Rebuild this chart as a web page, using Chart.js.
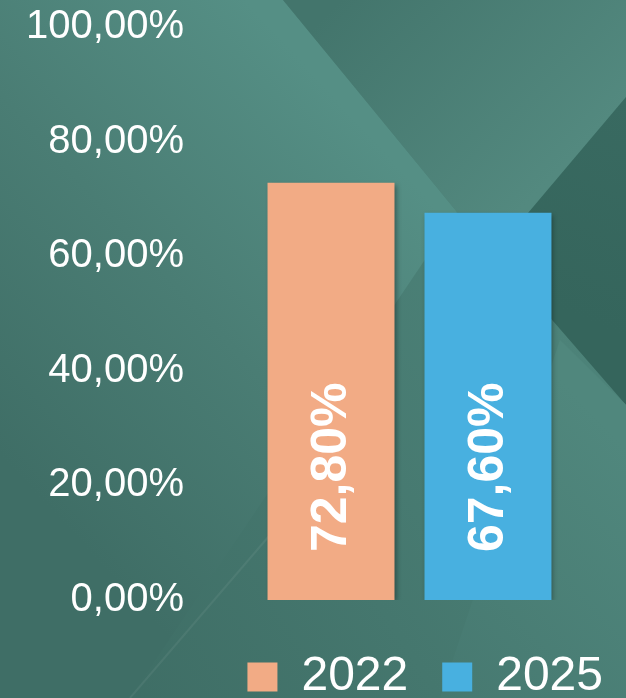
<!DOCTYPE html>
<html>
<head>
<meta charset="utf-8">
<script src="https://cdn.jsdelivr.net/npm/chart.js@4"></script>
<style>
  html, body { margin: 0; padding: 0; background: #467970; }
  #wrap { width: 626px; height: 698px; }
</style>
</head>
<body>
<div id="wrap"><canvas id="grafico"></canvas></div>
<script>
const categorias = ['Índice'];
const anos = ['2022', '2025'];
const valores2022 = [72.8];
const valores2025 = [67.6];
const coresBarras = ['#F2AB85', '#48B0E0'];
const yTicks = [0, 20, 40, 60, 80, 100];

const fmtPct = v => v.toFixed(2).replace('.', ',') + '%';

// fundo com as faixas diagonais
const fundoPlugin = {
  id: 'fundo',
  beforeDraw(chart) {
    const ctx = chart.ctx;
    const w = chart.width, h = chart.height;
    ctx.save();
    const poly = (pts, fill) => {
      ctx.beginPath();
      ctx.moveTo(pts[0][0], pts[0][1]);
      pts.slice(1).forEach(p => ctx.lineTo(p[0], p[1]));
      ctx.closePath();
      ctx.fillStyle = fill;
      ctx.fill();
    };
    let g = ctx.createLinearGradient(0, h, w, 300);
    g.addColorStop(0, '#3c6a62');
    g.addColorStop(0.5, '#45776e');
    g.addColorStop(1, '#4e857b');
    ctx.fillStyle = g;
    ctx.fillRect(0, 0, w, h);

    // faixa clara à esquerda da diagonal
    g = ctx.createLinearGradient(420, 190, 60, 520);
    g.addColorStop(0, '#558f85');
    g.addColorStop(0.5, '#4a7d74');
    g.addColorStop(1, '#3f6e66');
    poly([[0, 0], [283, 0], [457, 212], [130, 698], [0, 698]], g);

    // região superior direita
    g = ctx.createLinearGradient(340, 0, 540, 190);
    g.addColorStop(0, '#43756c');
    g.addColorStop(1, '#53897f');
    poly([[283, 0], [626, 0], [626, 97], [528, 213], [457, 212]], g);

    // triângulo escuro à direita
    g = ctx.createLinearGradient(626, 100, 540, 300);
    g.addColorStop(0, '#396a61');
    g.addColorStop(1, '#35655c');
    poly([[626, 97], [528, 213], [500, 260], [626, 405]], g);

    // parte inferior direita
    g = ctx.createLinearGradient(600, 420, 300, 698);
    g.addColorStop(0, '#50877d');
    g.addColorStop(1, '#43746c');
    poly([[626, 405], [626, 698], [440, 698], [560, 340]], g);

    // linha clara tênue
    ctx.strokeStyle = 'rgba(255,255,255,0.06)';
    ctx.lineWidth = 2;
    ctx.beginPath();
    ctx.moveTo(130, 698);
    ctx.lineTo(300, 500);
    ctx.stroke();
    ctx.restore();
  }
};

// sombra das barras e rótulos verticais
const rotulosPlugin = {
  id: 'rotulos',
  beforeDatasetsDraw(chart) {
    const ctx = chart.ctx;
    ctx.save();
    ctx.shadowColor = 'rgba(0,0,0,0.35)';
    ctx.shadowBlur = 5;
    ctx.shadowOffsetX = 2;
    ctx.shadowOffsetY = 2;
  },
  afterDatasetsDraw(chart) {
    const ctx = chart.ctx;
    ctx.restore();
    const base = chart.scales.y.getPixelForValue(0);
    chart.data.datasets.forEach((ds, i) => {
      chart.getDatasetMeta(i).data.forEach((bar, j) => {
        ctx.save();
        ctx.translate(bar.x, base - 48);
        ctx.rotate(-Math.PI / 2);
        ctx.font = 'bold 50px "Liberation Sans", Arial, sans-serif';
        ctx.fillStyle = '#ffffff';
        ctx.textAlign = 'left';
        ctx.textBaseline = 'middle';
        ctx.fillText(fmtPct(ds.data[j]), 0, 1);
        ctx.restore();
      });
    });
  }
};

new Chart(document.getElementById('grafico'), {
  type: 'bar',
  data: {
    labels: categorias,
    datasets: [
      {
        label: anos[0],
        data: valores2022,
        backgroundColor: coresBarras[0],
        borderWidth: 0,
        categoryPercentage: 0.725,
        barPercentage: 0.809
      },
      {
        label: anos[1],
        data: valores2025,
        backgroundColor: coresBarras[1],
        borderWidth: 0,
        categoryPercentage: 0.725,
        barPercentage: 0.809
      }
    ]
  },
  options: {
    responsive: true,
    maintainAspectRatio: false,
    animation: false,
    layout: { padding: { top: 27, right: -11, bottom: -13, left: 0 } },
    scales: {
      x: {
        grid: { display: false, drawTicks: false },
        border: { display: false },
        ticks: { display: false },
        afterFit(scale) { scale.height = 19; }
      },
      y: {
        min: 0,
        max: 100,
        afterBuildTicks(scale) { scale.ticks = yTicks.map(v => ({ value: v })); },
        grid: { display: false, drawTicks: false },
        border: { display: false },
        ticks: {
          padding: 9,
          color: '#ffffff',
          font: { family: '"Liberation Sans", Arial, sans-serif', size: 40, lineHeight: 0.9 },
          callback: v => fmtPct(v)
        },
        afterFit(scale) { scale.width = 193; }
      }
    },
    plugins: {
      legend: {
        position: 'bottom',
        align: 'end',
        labels: {
          color: '#ffffff',
          boxWidth: 30,
          boxHeight: 29,
          padding: 34,
          font: { family: '"Liberation Sans", Arial, sans-serif', size: 48 }
        }
      },
      tooltip: { enabled: false }
    }
  },
  plugins: [fundoPlugin, rotulosPlugin]
});
</script>
</body>
</html>
